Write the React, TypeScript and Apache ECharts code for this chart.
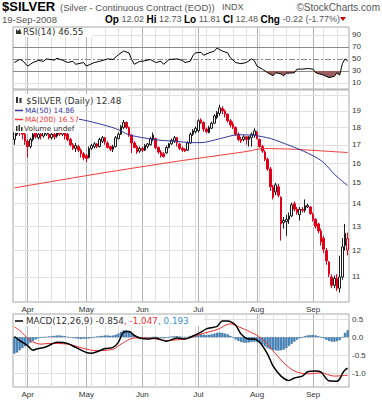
import React, { useEffect, useRef } from 'react';
import * as echarts from 'echarts';

// ---------- categories ----------
const HOLIDAYS = ['2008-05-26', '2008-07-04', '2008-09-01'];
const FIRST_DAY = '2008-03-25';
const LAST_DAY = '2008-09-19';
const MONTHS = ['Jan', 'Feb', 'Mar', 'Apr', 'May', 'Jun', 'Jul', 'Aug', 'Sep', 'Oct', 'Nov', 'Dec'];

function tradingDays(start: string, end: string): string[] {
  const out: string[] = [];
  const d = new Date(start + 'T00:00:00Z');
  const e = new Date(end + 'T00:00:00Z');
  while (d <= e) {
    const wd = d.getUTCDay();
    const s = d.toISOString().slice(0, 10);
    if (wd !== 0 && wd !== 6 && HOLIDAYS.indexOf(s) < 0) out.push(s);
    d.setUTCDate(d.getUTCDate() + 1);
  }
  return out;
}
const dates = tradingDays(FIRST_DAY, LAST_DAY);

// ---------- price data [open, close, low, high] ----------
const ohlc: number[][] = [
  [17.30, 17.70, 17.00, 17.90], [17.60, 17.95, 17.50, 18.10], [17.90, 17.75, 17.50, 18.00], [17.70, 17.60, 17.30, 17.90],
  [17.60, 17.20, 17.00, 17.70], [17.20, 16.90, 16.30, 17.30], [16.90, 17.30, 16.80, 17.40], [17.30, 17.60, 17.20, 17.70],
  [17.70, 17.45, 17.35, 17.80], [17.40, 17.60, 17.30, 17.80], [17.60, 17.50, 17.30, 17.70], [17.50, 17.70, 17.40, 17.90],
  [17.60, 17.90, 17.50, 18.10], [17.60, 17.40, 17.30, 17.90], [17.40, 17.60, 17.30, 17.80], [17.60, 17.45, 17.30, 17.70],
  [17.50, 17.80, 17.40, 18.00], [17.80, 17.60, 17.50, 17.90], [17.60, 17.75, 17.50, 17.90], [17.70, 17.50, 17.30, 17.80],
  [17.60, 17.30, 17.20, 17.70], [17.30, 17.00, 16.90, 17.40], [17.00, 16.80, 16.70, 17.10], [16.80, 16.95, 16.60, 17.10],
  [16.90, 16.70, 16.60, 17.00], [16.70, 16.50, 16.30, 16.80], [16.50, 16.30, 16.15, 16.60], [16.40, 16.25, 16.05, 16.50],
  [16.30, 16.80, 16.25, 16.90], [16.80, 16.95, 16.70, 17.05], [16.90, 17.05, 16.80, 17.15], [17.05, 16.90, 16.80, 17.10],
  [16.90, 17.30, 16.85, 17.40], [17.20, 17.40, 17.10, 17.50], [17.40, 17.15, 17.00, 17.45], [17.10, 16.85, 16.80, 17.20],
  [16.90, 16.75, 16.65, 16.95], [16.75, 16.90, 16.60, 17.00], [16.90, 17.40, 16.85, 17.50], [17.35, 17.60, 17.30, 17.70],
  [17.60, 18.05, 17.55, 18.15], [18.00, 18.30, 17.90, 18.45], [18.30, 18.00, 17.90, 18.35], [18.00, 17.55, 17.45, 18.05],
  [17.55, 17.10, 16.55, 17.60], [17.10, 16.85, 16.80, 17.20], [16.90, 16.60, 16.50, 17.00], [16.65, 16.80, 16.55, 16.90],
  [16.80, 16.70, 16.60, 16.90], [16.70, 16.95, 16.65, 17.05], [16.90, 17.05, 16.80, 17.10], [17.00, 17.35, 16.95, 17.45],
  [17.30, 17.55, 17.20, 17.70], [17.35, 16.85, 16.75, 17.40], [16.85, 16.60, 16.50, 16.90], [16.60, 16.40, 16.30, 16.70],
  [16.50, 16.35, 16.30, 16.60], [16.55, 16.85, 16.50, 16.95], [16.85, 17.05, 16.80, 17.10], [17.05, 17.25, 17.00, 17.35],
  [17.20, 17.40, 17.10, 17.50], [17.40, 17.10, 16.90, 17.45], [17.05, 16.80, 16.70, 17.10], [16.80, 16.70, 16.60, 16.90],
  [16.75, 16.65, 16.60, 16.80], [16.70, 17.10, 16.65, 17.20], [17.10, 17.60, 17.05, 17.70], [17.60, 17.80, 17.50, 17.90],
  [17.75, 17.95, 17.65, 18.05], [17.80, 18.40, 17.70, 18.50], [18.45, 18.30, 18.20, 18.55], [18.30, 17.90, 17.75, 18.35],
  [17.90, 17.75, 17.65, 18.00], [17.70, 18.00, 17.65, 18.10], [17.95, 18.25, 17.90, 18.35], [18.25, 18.70, 18.20, 18.80],
  [18.60, 18.90, 18.50, 19.00], [18.85, 19.20, 18.70, 19.40], [19.15, 19.00, 18.80, 19.30], [19.00, 18.80, 18.60, 19.10],
  [18.80, 18.40, 18.30, 18.85], [18.40, 18.15, 18.00, 18.50], [18.20, 18.00, 17.90, 18.35], [18.00, 17.60, 17.50, 18.05],
  [17.60, 17.30, 17.20, 17.70], [17.30, 17.20, 17.10, 17.45], [17.30, 17.45, 17.20, 17.55], [17.45, 17.30, 17.00, 17.50],
  [17.30, 17.45, 16.90, 17.50], [17.40, 17.60, 16.90, 17.70], [17.55, 17.80, 17.40, 17.95], [17.70, 17.35, 17.30, 17.80],
  [17.30, 16.90, 16.85, 17.35], [16.90, 16.65, 16.55, 17.00], [16.60, 16.20, 16.10, 16.70], [16.20, 15.70, 15.60, 16.30],
  [15.70, 14.80, 14.60, 15.80], [14.80, 14.30, 14.20, 14.90], [14.55, 14.90, 14.40, 15.00], [14.80, 14.40, 14.30, 14.95],
  [14.30, 13.10, 12.40, 14.35], [13.15, 13.25, 12.90, 13.40], [13.20, 13.30, 12.60, 13.50], [13.30, 13.45, 13.10, 13.60],
  [13.45, 13.95, 13.40, 14.05], [14.00, 13.75, 13.65, 14.10], [13.75, 13.60, 13.50, 13.85], [13.50, 13.75, 13.25, 13.85],
  [13.75, 13.70, 13.60, 13.85], [13.70, 13.90, 13.60, 14.20], [13.85, 13.92, 13.80, 14.00], [13.85, 13.55, 13.50, 13.90],
  [13.50, 13.30, 13.20, 13.60], [13.30, 13.00, 12.90, 13.35], [13.10, 12.80, 12.70, 13.15], [12.80, 12.35, 12.20, 12.90],
  [12.50, 12.05, 11.90, 12.60], [12.00, 11.60, 11.45, 12.10], [11.55, 11.10, 11.00, 11.60], [11.00, 10.70, 10.60, 11.10],
  [10.70, 10.95, 10.60, 11.05], [10.95, 10.60, 10.50, 11.10], [10.60, 11.00, 10.45, 11.80], [11.00, 12.15, 10.90, 12.50],
  [12.20, 12.70, 12.00, 13.10], [12.02, 12.48, 11.81, 12.73],
];

// moving averages, read as [dayIndex, value]
const ma50Points: number[][] = [
  [0, 19.0], [24, 18.5], [31, 18.25], [38, 17.93], [43, 17.57], [49, 17.38], [55, 17.25], [61, 17.19],
  [66, 17.12], [70, 17.12], [77, 17.34], [84, 17.57], [90, 17.53], [96, 17.36], [100, 17.14], [105, 16.86],
  [112, 16.40], [116, 16.03], [120, 15.43], [125, 14.86],
];
const ma200Points: number[][] = [
  [0, 14.75], [32, 15.47], [62, 16.12], [77, 16.42], [88, 16.65], [93, 16.79], [105, 16.75], [125, 16.57],
];

// RSI(14), read as [dayIndex, value]
const rsiPoints: number[][] = [
  [0, 44], [2, 49], [3, 47.5], [5, 38], [7, 44], [9, 47.5], [11, 46], [12, 50], [15, 48], [16, 51], [18, 48],
  [20, 44], [22, 46], [23, 41], [26, 44], [27, 38], [30, 44], [32, 46], [35, 50], [37, 49], [39, 57], [41, 63],
  [43, 60], [44, 49], [45, 41], [47, 46], [48, 46], [51, 49], [53, 44], [55, 46], [56, 41], [58, 49], [61, 50],
  [63, 47.5], [64, 44], [66, 46], [67, 56], [68, 60], [70, 61], [71, 56], [73, 60], [75, 63], [76, 68], [78, 63],
  [80, 60], [81, 52], [83, 44], [85, 42], [87, 44], [89, 50], [90, 47], [91, 38], [93, 33], [95, 27], [97, 22],
  [98, 27], [100, 25], [101, 22], [102, 26], [105, 27], [106, 33], [108, 33], [110, 34], [112, 33], [113, 27],
  [116, 23], [118, 19], [120, 21], [121, 27], [122, 23], [123, 42], [124, 50], [125, 46.55],
];

// MACD(12,26,9), read as [dayIndex, value]
const macdPoints: number[][] = [
  [0, 0.02], [2, -0.09], [5, -0.23], [7, -0.36], [8, -0.33], [12, -0.26], [16, -0.14], [20, -0.17], [23, -0.28],
  [27, -0.42], [29, -0.44], [32, -0.37], [34, -0.31], [37, -0.28], [39, -0.14], [41, 0.14], [43, 0.16], [45, 0.05],
  [47, -0.02], [50, -0.05], [53, -0.02], [57, -0.11], [61, -0.02], [64, -0.05], [66, 0.0], [70, 0.14], [72, 0.23],
  [76, 0.30], [78, 0.45], [80, 0.45], [83, 0.33], [85, 0.09], [88, -0.05], [90, -0.05], [92, -0.14], [95, -0.47],
  [97, -0.79], [100, -1.07], [103, -1.19], [105, -1.12], [108, -1.07], [110, -0.95], [113, -0.93], [115, -0.96],
  [118, -1.20], [121, -1.21], [122, -1.15], [123, -1.0], [124, -0.9], [125, -0.854],
];
const signalPoints: number[][] = [
  [0, 0.28], [2, 0.19], [6, -0.09], [10, -0.19], [13, -0.17], [20, -0.19], [26, -0.31], [31, -0.37], [37, -0.33],
  [40, -0.19], [45, -0.02], [50, -0.02], [57, -0.09], [65, -0.03], [70, 0.09], [76, 0.21], [81, 0.37], [85, 0.26],
  [90, 0.09], [93, -0.05], [97, -0.37], [101, -0.70], [105, -0.93], [110, -1.01], [115, -0.98], [120, -1.07],
  [125, -1.047],
];
const histValues: number[] = [
  -0.45, -0.42, -0.36, -0.30, -0.25, -0.20, -0.15, -0.10, -0.06, -0.03, -0.01, 0.00, 0.01, 0.02, 0.03, 0.04,
  0.05, 0.05, 0.04, 0.03, 0.01, -0.01, -0.02, -0.03, -0.04, -0.05, -0.04, -0.04, -0.03, -0.02, 0.00, 0.02,
  0.03, 0.04, 0.05, 0.05, 0.04, 0.05, 0.07, 0.10, 0.15, 0.19, 0.20, 0.17, 0.12, 0.06, 0.02, 0.00,
  -0.01, -0.02, -0.02, -0.01, 0.00, 0.01, -0.01, -0.02, -0.03, -0.02, 0.00, 0.02, 0.03, 0.03, 0.02, 0.01,
  0.00, 0.01, 0.03, 0.05, 0.06, 0.07, 0.08, 0.07, 0.06, 0.07, 0.08, 0.10, 0.12, 0.13, 0.12, 0.10,
  0.08, 0.04, -0.01, -0.06, -0.10, -0.13, -0.15, -0.15, -0.14, -0.13, -0.12, -0.13, -0.15, -0.20, -0.25, -0.30,
  -0.33, -0.35, -0.36, -0.37, -0.36, -0.34, -0.30, -0.24, -0.18, -0.12, -0.07, -0.03, 0.00, 0.03, 0.05, 0.06,
  0.06, 0.05, 0.03, 0.00, -0.03, -0.07, -0.10, -0.12, -0.12, -0.11, -0.08, 0.00, 0.12, 0.193,
];

// axis ticks
const priceGrid = [11, 12, 13, 14, 15, 16, 17, 18, 19, 20];
const priceLabels = ['11', '12', '13', '14', '15', '16', '17', '18', '19', ''];
const rsiTicks = [90, 70, 50, 30, 10];
const macdTicks = [0.5, 0.0, -0.5, -1.0];
const macdLabels = ['0.5', '0.0', '-0.5', '-1.0'];

const RED = '#e0001a';
const BLACK = '#1a1a1a';
const TXT = '"DejaVu Sans", Verdana, sans-serif';
const AX = '"Liberation Sans", Arial, sans-serif';

function dow(s: string) {
  return new Date(s + 'T00:00:00Z').getUTCDay();
}
const monthStarts = dates.map((d, i) => (i > 0 && d.slice(5, 7) !== dates[i - 1].slice(5, 7) ? i : -1)).filter((i) => i >= 0);
const weekStarts = dates.map((d, i) => (i > 0 && dow(d) < dow(dates[i - 1]) ? i : -1)).filter((i) => i >= 0);

// the part of the RSI line that lies below a level (for the shaded oversold zone)
function clipBelow(points: number[][], level: number) {
  const out: number[][] = [];
  for (let k = 0; k < points.length; k++) {
    const [x, y] = points[k];
    if (k > 0) {
      const [px, py] = points[k - 1];
      if ((py - level) * (y - level) < 0) {
        const t = (level - py) / (y - py);
        out.push([px + t * (x - px), level]);
      }
    }
    out.push([x, Math.min(y, level)]);
  }
  return out;
}

function vLines() {
  const arr: any[] = [];
  weekStarts.forEach((i) => {
    if (monthStarts.indexOf(i) < 0) arr.push({ xAxis: i, lineStyle: { color: '#e0e0e0', width: 1, type: 'solid' }, label: { show: false } });
  });
  monthStarts.forEach((i) => arr.push({ xAxis: i, lineStyle: { color: '#b4b4b4', width: 1, type: 'solid' }, label: { show: false } }));
  return arr;
}
function hLine(v: number, color: string, label: string | null, type: any = 'solid') {
  return {
    yAxis: v,
    lineStyle: { color, width: 1, type },
    label: label
      ? { show: true, formatter: label, position: 'end', distance: 3, color: '#333', fontSize: 8, fontFamily: AX }
      : { show: false },
  };
}
function gridSeries(xi: number, yi: number, data: any[]) {
  return {
    type: 'line', xAxisIndex: xi, yAxisIndex: yi, data: [], silent: true, z: 1,
    markLine: { silent: true, symbol: ['none', 'none'], animation: false, z: 1, data },
  };
}

function buildOption(): any {
  const candleData = ohlc.map((d, i) => {
    const [o, c] = d;
    const prev = i > 0 ? ohlc[i - 1][1] : 0;
    const col = c < prev ? RED : BLACK;
    const fill = c >= o ? '#ffffff' : col;
    return { value: d, itemStyle: { color: fill, color0: fill, borderColor: col, borderColor0: col, borderWidth: 1 } };
  });
  const rsiClipped = clipBelow(rsiPoints, 30);

  const catAxis = (gridIndex: number, show: boolean) => ({
    type: 'category', gridIndex, data: dates, boundaryGap: true,
    axisLine: { show: false }, axisTick: { show: false }, splitLine: { show: false },
    axisLabel: {
      show, interval: (i: number) => monthStarts.indexOf(i) >= 0,
      formatter: (v: string) => MONTHS[parseInt(v.slice(5, 7), 10) - 1],
      color: '#333', fontSize: 8, fontFamily: AX, margin: 3,
    },
  });
  const valX = (gridIndex: number) => ({ type: 'value', gridIndex, min: -0.5, max: dates.length - 0.5, show: false });
  const gridBox = { show: true, borderColor: '#a8a8a8', borderWidth: 1, backgroundColor: 'transparent' };

  const rsiStyles = ['#e0e0e0', '#8a8a8a', '#8a8a8a', '#8a8a8a', '#e0e0e0'];
  const rsiH = rsiTicks.map((v, k) => hLine(v, rsiStyles[k], String(v), v === 50 ? [6, 2, 2, 2] : 'solid'));
  const priceH = priceGrid.map((v, k) => hLine(v, '#e0e0e0', priceLabels[k] || null));
  const macdH = macdTicks.map((v, k) => hLine(v, '#e0e0e0', macdLabels[k]));

  const bigFont = { fontFamily: TXT, fontSize: 8.8 };
  const smallFont = { fontFamily: TXT, fontSize: 7.3 };

  return {
    animation: false,
    grid: [
      { left: 13, top: 27, width: 336, height: 62, ...gridBox },
      { left: 13, top: 90, width: 336, height: 212, ...gridBox },
      { left: 13, top: 314, width: 336, height: 73, ...gridBox },
    ],
    xAxis: [valX(0), catAxis(1, true), valX(1), catAxis(2, true), valX(2)],
    yAxis: [
      { type: 'value', gridIndex: 0, min: 0, max: 103, show: false },
      { type: 'log', logBase: 10, gridIndex: 1, min: 10.13, max: 20.36, show: false },
      { type: 'value', gridIndex: 2, min: -1.37, max: 0.64, show: false },
    ],
    series: [
      gridSeries(0, 0, [...vLines(), ...rsiH]),
      {
        type: 'line', xAxisIndex: 0, yAxisIndex: 0, data: rsiClipped, showSymbol: false, silent: true,
        lineStyle: { width: 0, opacity: 0 }, areaStyle: { color: '#9a5c5d', opacity: 1, origin: 30 }, z: 2,
      },
      { type: 'line', xAxisIndex: 0, yAxisIndex: 0, data: rsiPoints, showSymbol: false, silent: true, lineStyle: { color: '#000', width: 1 }, z: 3 },

      gridSeries(2, 1, [...vLines(), ...priceH]),
      { type: 'candlestick', xAxisIndex: 1, yAxisIndex: 1, data: candleData, barWidth: 2.4, silent: true, z: 3 },
      { type: 'line', xAxisIndex: 2, yAxisIndex: 1, data: ma200Points, showSymbol: false, silent: true, smooth: 0.2, lineStyle: { color: '#f03a3a', width: 1 }, z: 4 },
      { type: 'line', xAxisIndex: 2, yAxisIndex: 1, data: ma50Points, showSymbol: false, silent: true, smooth: 0.3, lineStyle: { color: '#34379a', width: 1 }, z: 4 },

      gridSeries(4, 2, [...vLines(), ...macdH]),
      { type: 'bar', xAxisIndex: 3, yAxisIndex: 2, data: histValues, barWidth: 2.2, silent: true, itemStyle: { color: '#3f86c2', borderColor: '#2a5f8c', borderWidth: 0.4 }, z: 2 },
      { type: 'line', xAxisIndex: 4, yAxisIndex: 2, data: signalPoints, showSymbol: false, silent: true, smooth: 0.3, lineStyle: { color: '#f03030', width: 1 }, z: 3 },
      { type: 'line', xAxisIndex: 4, yAxisIndex: 2, data: macdPoints, showSymbol: false, silent: true, smooth: 0.3, lineStyle: { color: '#000', width: 1.5 }, z: 4 },
    ],
    graphic: [
      // header line 1
      { type: 'text', x: 2, y: 6.5, z: 100, style: { text: '$SILVER', font: 'bold 13px "Liberation Sans", Arial', fill: '#000', verticalAlign: 'middle' } },
      { type: 'text', x: 60, y: 7, z: 100, style: { text: '(Silver - Continuous Contract (EOD))', font: '9.5px "Liberation Sans", Arial', fill: '#555', verticalAlign: 'middle' } },
      { type: 'text', x: 222, y: 7, z: 100, style: { text: 'INDX', font: '9px "Liberation Sans", Arial', fill: '#555', verticalAlign: 'middle' } },
      { type: 'text', x: 380, y: 7, z: 100, style: { text: '©StockCharts.com', font: '10px "Liberation Sans", Arial', fill: '#555', align: 'right', verticalAlign: 'middle' } },
      // header line 2
      { type: 'text', x: 2, y: 19, z: 100, style: { text: '19-Sep-2008', font: '9.5px "Liberation Sans", Arial', fill: '#555', verticalAlign: 'middle' } },
      {
        type: 'text', x: 105, y: 19, z: 100,
        style: {
          text: '{b|Op} {v|12.02} {b|Hi} {v|12.73} {b|Lo} {v|11.81} {b|Cl} {v|12.48} {b|Chg} {v|-0.22 (-1.77%)}',
          verticalAlign: 'middle', font: '9px "Liberation Sans", Arial',
          rich: {
            b: { fontFamily: '"Liberation Sans", Arial', fontSize: 10, fontWeight: 'bold', fill: '#000' },
            v: { fontFamily: '"Liberation Sans", Arial', fontSize: 9, fill: '#555' },
          },
        },
      },
      { type: 'polygon', z: 100, shape: { points: [[340, 17], [346, 17], [343, 21]] }, style: { fill: '#cc0000' } },

      // RSI legend
      { type: 'rect', z: 99, shape: { x: 14, y: 28, width: 78, height: 9 }, style: { fill: '#fff' } },
      { type: 'polygon', z: 100, shape: { points: [[16, 34], [16, 29], [18, 31], [20, 28.5], [21.5, 34]] }, style: { fill: '#333' } },
      { type: 'text', x: 23, y: 32, z: 100, style: { text: 'RSI(14) 46.55', ...bigFont, fill: '#333', verticalAlign: 'middle' } },

      // price legend
      { type: 'rect', z: 99, shape: { x: 14, y: 94, width: 114, height: 11 }, style: { fill: '#fff' } },
      { type: 'rect', z: 99, shape: { x: 14, y: 105, width: 65, height: 28 }, style: { fill: '#fff' } },
      { type: 'rect', z: 100, shape: { x: 16, y: 97, width: 2, height: 6 }, style: { fill: '#333' } },
      { type: 'rect', z: 100, shape: { x: 19.5, y: 98, width: 2, height: 5 }, style: { fill: '#333' } },
      { type: 'text', x: 26, y: 100.5, z: 100, style: { text: '$SILVER (Daily) 12.48', ...bigFont, fill: '#333', verticalAlign: 'middle' } },
      { type: 'line', z: 100, shape: { x1: 15, y1: 110.5, x2: 23, y2: 110.5 }, style: { stroke: '#34379a', lineWidth: 1.5 } },
      { type: 'text', x: 25, y: 110.5, z: 100, style: { text: 'MA(50) 14.86', ...smallFont, fill: '#34379a', verticalAlign: 'middle' } },
      { type: 'line', z: 100, shape: { x1: 15, y1: 119.5, x2: 23, y2: 119.5 }, style: { stroke: '#f03a3a', lineWidth: 1.5 } },
      { type: 'text', x: 25, y: 119.5, z: 100, style: { text: 'MA(200) 16.57', ...smallFont, fill: '#f03a3a', verticalAlign: 'middle' } },
      { type: 'rect', z: 100, shape: { x: 16, y: 126, width: 1.5, height: 5 }, style: { fill: '#333' } },
      { type: 'rect', z: 100, shape: { x: 18.5, y: 125, width: 1.5, height: 6 }, style: { fill: '#333' } },
      { type: 'rect', z: 100, shape: { x: 21, y: 127, width: 1.5, height: 4 }, style: { fill: '#333' } },
      { type: 'text', x: 24, y: 128.5, z: 100, style: { text: 'Volume undef', ...smallFont, fill: '#333', verticalAlign: 'middle' } },

      // MACD legend
      { type: 'rect', z: 99, shape: { x: 14, y: 315, width: 190, height: 11 }, style: { fill: '#fff' } },
      { type: 'line', z: 100, shape: { x1: 15, y1: 321, x2: 23, y2: 321 }, style: { stroke: '#000', lineWidth: 1.5 } },
      {
        type: 'text', x: 26, y: 321, z: 100,
        style: {
          text: '{k|MACD(12,26,9) -0.854}{r|, -1.047}{b|, 0.193}', verticalAlign: 'middle', ...bigFont,
          rich: {
            k: { ...bigFont, fill: '#333' },
            r: { ...bigFont, fill: '#f03030' },
            b: { ...bigFont, fill: '#3a8fd0' },
          },
        },
      },
    ],
  };
}

export default function App() {
  const ref = useRef<HTMLDivElement>(null);
  useEffect(() => {
    const chart = echarts.init(ref.current as HTMLDivElement, null, { renderer: 'svg' });
    chart.setOption(buildOption());
    return () => chart.dispose();
  }, []);
  return <div ref={ref} style={{ position: 'fixed', left: 0, top: 0, width: 382, height: 400, background: '#fff' }} />;
}
